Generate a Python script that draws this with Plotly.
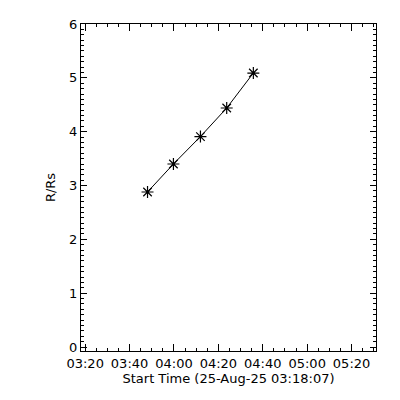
import plotly.graph_objects as go

times = ["2025-08-25 03:48:05", "2025-08-25 03:59:45", "2025-08-25 04:11:55",
         "2025-08-25 04:23:45", "2025-08-25 04:35:45"]
heights = [2.88, 3.40, 3.91, 4.44, 5.09]

x_range = ["2025-08-25 03:18:07", "2025-08-25 05:31:00"]
y_range = [-0.074, 6.001]
x_title = "Start Time (25-Aug-25 03:18:07)"
y_title = "R/Rs"

font = dict(family="DejaVu Sans", size=13, color="black")

fig = go.Figure()
fig.add_trace(go.Scatter(
    x=times, y=heights, mode="lines+markers",
    line=dict(color="black", width=1),
    marker=dict(symbol="asterisk-open", size=10, color="black",
                line=dict(color="black", width=1.2)),
    showlegend=False,
))

axis_common = dict(
    showline=True, linecolor="black", linewidth=1, mirror="allticks",
    ticks="inside", tickcolor="black", showgrid=False, zeroline=False,
    tickfont=font, automargin=False,
)

fig.update_xaxes(
    type="date", range=x_range, tickformat="%H:%M",
    tick0="2025-08-25 03:20:00", dtick=20 * 60 * 1000, ticklen=7,
    minor=dict(ticks="inside", dtick=5 * 60 * 1000, ticklen=3, tickcolor="black",
               showgrid=False),
    title=dict(text=x_title, font=font, standoff=4),
    **axis_common,
)
fig.update_yaxes(
    range=y_range, tick0=0, dtick=1, ticklen=6,
    minor=dict(ticks="inside", dtick=0.1, ticklen=3, tickcolor="black",
               showgrid=False),
    title=dict(text=y_title, font=font, standoff=10),
    **axis_common,
)

fig.update_layout(
    width=392, height=392,
    margin=dict(l=73, r=24, t=16, b=49, pad=0),
    plot_bgcolor="white", paper_bgcolor="white",
    font=font,
)

fig.write_html("out.html")
